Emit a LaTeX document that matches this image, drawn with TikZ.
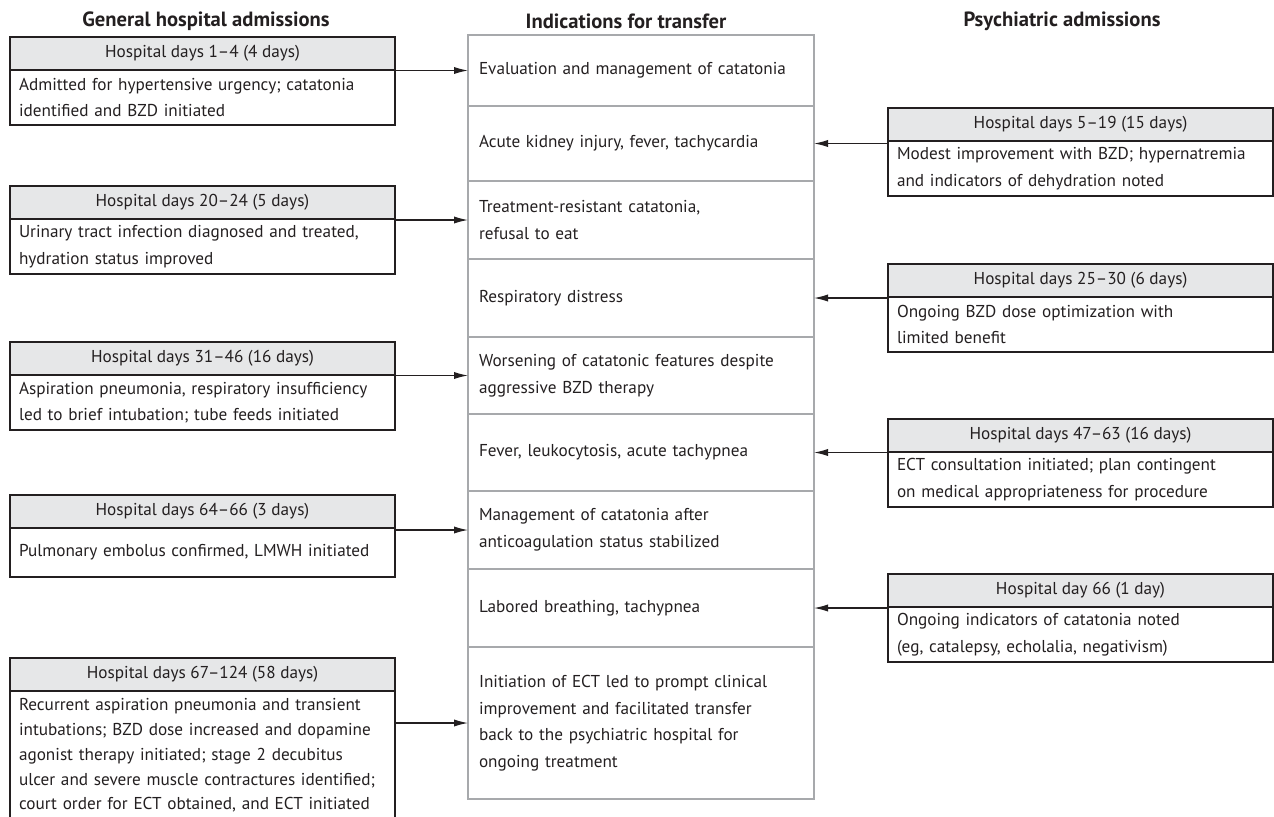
\documentclass[tikz,border=0pt]{standalone}
\usepackage{fontspec}
\setmainfont{PT Sans}
\usepackage{tikz}
\usetikzlibrary{positioning,arrows.meta}
\definecolor{ink}{HTML}{231F20}
\definecolor{hdrfill}{HTML}{E6E7E8}
\definecolor{rowline}{HTML}{A7A9AC}
\hyphenpenalty=10000

\begin{document}
\begin{tikzpicture}[x=0.5pt,y=-0.5pt,node distance=0pt,
    every node/.style={font=\fontsize{8.6}{13.3}\selectfont,text=ink,outer sep=0pt},
    title/.style={font=\fontsize{10.3}{12}\selectfont\bfseries},
    dayhdr/.style={draw=ink,line width=0.7pt,fill=hdrfill,minimum width=192.5pt,minimum height=16.5pt,inner sep=0pt},
    daybody/.style={draw=ink,line width=0.7pt,text width=183.5pt,inner xsep=4.5pt,inner ysep=1pt,align=left,minimum height=27.5pt},
    reason/.style={draw=rowline,line width=0.65pt,text width=162pt,inner xsep=5.5pt,inner ysep=1pt,align=left},
    arrow/.style={color=ink,line width=0.6pt,-{Latex[length=7pt,width=3.6pt]}}]
    \useasboundingbox (0,0) rectangle (1274,816);

    % column titles
    \node[title] (gtitle) at (206,21) {General hospital admissions};
    \node[title] (ttitle) at (626,21) {Indications for transfer};
    \node[title] (ptitle) at (1062,21) {Psychiatric admissions};

    % indications for transfer
    \node[reason,minimum height=35.5pt,anchor=north west] (t1) at (468,35) {Evaluation and management of catatonia};
    \node[reason,minimum height=37.5pt,below=of t1] (t2) {Acute kidney injury, fever, tachycardia};
    \node[reason,minimum height=39pt,below=of t2] (t3) {Treatment-resistant catatonia,\\refusal to eat};
    \node[reason,minimum height=39pt,below=of t3] (t4) {Respiratory distress};
    \node[reason,minimum height=38.5pt,below=of t4] (t5) {Worsening of catatonic features despite\\aggressive BZD therapy};
    \node[reason,minimum height=38.5pt,below=of t5] (t6) {Fever, leukocytosis, acute tachypnea};
    \node[reason,minimum height=39pt,below=of t6] (t7) {Management of catatonia after\\anticoagulation status stabilized};
    \node[reason,minimum height=39pt,below=of t7] (t8) {Labored breathing, tachypnea};
    \node[reason,minimum height=76pt,below=of t8] (t9) {Initiation of ECT led to prompt clinical\\improvement and facilitated transfer\\back to the psychiatric hospital for\\ongoing treatment};

    % general hospital admissions
    \node[dayhdr,anchor=north west] (l1h) at (10,37) {Hospital days 1--4 (4 days)};
    \node[daybody,below=of l1h] (l1b) {Admitted for hypertensive urgency; catatonia\\identified and BZD initiated};
    \node[dayhdr,anchor=north west] (l2h) at (10,186) {Hospital days 20--24 (5 days)};
    \node[daybody,below=of l2h] (l2b) {Urinary tract infection diagnosed and treated,\\hydration status improved};
    \node[dayhdr,anchor=north west] (l3h) at (10,342) {Hospital days 31--46 (16 days)};
    \node[daybody,below=of l3h] (l3b) {Aspiration pneumonia, respiratory insufficiency\\led to brief intubation; tube feeds initiated};
    \node[dayhdr,anchor=north west] (l4h) at (10,495) {Hospital days 64--66 (3 days)};
    \node[daybody,minimum height=24.5pt,below=of l4h] (l4b) {Pulmonary embolus confirmed, LMWH initiated};
    \node[dayhdr,anchor=north west] (l5h) at (10,658) {Hospital days 67--124 (58 days)};
    \node[daybody,font=\fontsize{8.6}{12.4}\selectfont,inner ysep=2pt,minimum height=64.5pt,below=of l5h] (l5b) {Recurrent aspiration pneumonia and transient\\intubations; BZD dose increased and dopamine\\agonist therapy initiated; stage 2 decubitus\\ulcer and severe muscle contractures identified;\\court order for ECT obtained, and ECT initiated};

    % psychiatric admissions
    \node[dayhdr,anchor=north west] (r1h) at (888,108) {Hospital days 5--19 (15 days)};
    \node[daybody,below=of r1h] (r1b) {Modest improvement with BZD; hypernatremia\\and indicators of dehydration noted};
    \node[dayhdr,anchor=north west] (r2h) at (888,264) {Hospital days 25--30 (6 days)};
    \node[daybody,below=of r2h] (r2b) {Ongoing BZD dose optimization with\\limited benefit};
    \node[dayhdr,anchor=north west] (r3h) at (888,419) {Hospital days 47--63 (16 days)};
    \node[daybody,below=of r3h] (r3b) {ECT consultation initiated; plan contingent\\on medical appropriateness for procedure};
    \node[dayhdr,anchor=north west] (r4h) at (888,574) {Hospital day 66 (1 day)};
    \node[daybody,below=of r4h] (r4b) {Ongoing indicators of catatonia noted\\(eg, catalepsy, echolalia, negativism)};

    \path[arrow]
    (l1b.east |- t1.west) edge (t1.west)
    (l2b.east |- t3.west) edge (t3.west)
    (l3b.east |- t5.west) edge (t5.west)
    (l4b.east |- t7.west) edge (t7.west)
    (l5b.east |- t9.west) edge (t9.west)
    (r1b.west |- t2.east) edge (t2.east)
    (r2b.west |- t4.east) edge (t4.east)
    (r3b.west |- t6.east) edge (t6.east)
    (r4b.west |- t8.east) edge (t8.east);
\end{tikzpicture}
\end{document}
